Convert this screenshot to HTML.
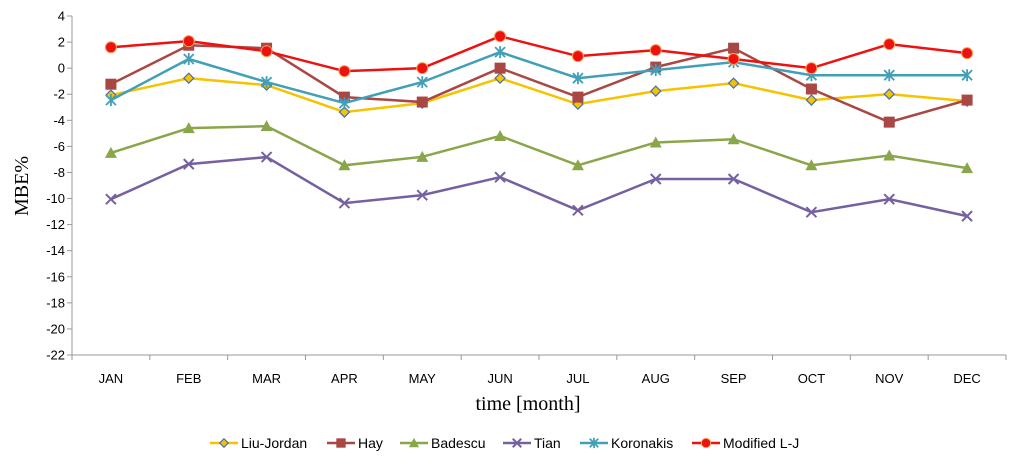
<!DOCTYPE html>
<html><head><meta charset="utf-8"><style>
body{margin:0;background:#fff;width:1024px;height:466px;overflow:hidden}
svg{font-family:"Liberation Sans",sans-serif}
</style></head><body>
<svg id="c" width="1024" height="466"></svg>
<script>
const months=["JAN","FEB","MAR","APR","MAY","JUN","JUL","AUG","SEP","OCT","NOV","DEC"];
const yTicks=[4,2,0,-2,-4,-6,-8,-10,-12,-14,-16,-18,-20,-22];
const liuJordan=[-2.07,-0.77,-1.3,-3.37,-2.68,-0.77,-2.76,-1.76,-1.15,-2.45,-1.99,-2.53];
const hay=[-1.23,1.76,1.53,-2.22,-2.6,0,-2.22,0.08,1.53,-1.6,-4.14,-2.45];
const badescu=[-6.5,-4.6,-4.45,-7.45,-6.8,-5.2,-7.45,-5.7,-5.45,-7.45,-6.7,-7.67];
const tian=[-10.05,-7.36,-6.82,-10.35,-9.74,-8.36,-10.9,-8.5,-8.5,-11.05,-10.05,-11.35];
const koronakis=[-2.45,0.7,-1.07,-2.68,-1.07,1.23,-0.77,-0.15,0.46,-0.54,-0.54,-0.54];
const modifiedLJ=[1.6,2.07,1.3,-0.23,0,2.45,0.92,1.38,0.7,0,1.84,1.15];
const seriesNames=["Liu-Jordan","Hay","Badescu","Tian","Koronakis","Modified L-J"];

const svg=document.getElementById('c');
const NS="http://www.w3.org/2000/svg";
const L=72,R=1006,T=16,B=355,ymin=-22,ymax=4;
const x=i=>L+(R-L)/months.length*(i+0.5);
const y=v=>T+(ymax-v)/(ymax-ymin)*(B-T);
function mk(t,a,p){const e=document.createElementNS(NS,t);for(const k in a)e.setAttribute(k,a[k]);(p||svg).appendChild(e);return e;}

let e=mk('line',{x1:L,y1:T,x2:L,y2:B,stroke:'#999'});


e=mk('line',{x1:L,y1:B,x2:R,y2:B,stroke:'#999'});


yTicks.forEach(v=>{
  mk('line',{x1:L-5,y1:y(v),x2:L,y2:y(v),stroke:'#999'});
  const t=mk('text',{x:L-7,y:y(v)+4.5,'text-anchor':'end','font-size':13,fill:'#000'});
  t.textContent=v;
  
  
});
for(let i=0;i<=months.length;i++){const xx=L+(R-L)/months.length*i;mk('line',{x1:xx,y1:B,x2:xx,y2:B+5,stroke:'#999'});}
months.forEach((m,i)=>{
  const t=mk('text',{x:x(i),y:383,'text-anchor':'middle','font-size':13});
  t.textContent=m;
  
  
});
let t=mk('text',{x:528,y:410,'text-anchor':'middle','font-size':20,'font-family':'Liberation Serif,serif'});
t.textContent='time [month]';


t=mk('text',{x:0,y:0,transform:'translate(28,186) rotate(-90)','text-anchor':'middle','font-size':20,'font-family':'Liberation Serif,serif'});
t.textContent='MBE%';



const colors=["#f5c300","#a84744","#8aa64a","#7560a0","#41a0b8","#ee1111"];
const data=[liuJordan,hay,badescu,tian,koronakis,modifiedLJ];
function marker(k,cx,cy,g,s){
  s=s||1;const c=colors[k];
  if(k===0)mk('path',{d:`M${cx} ${cy-5*s}L${cx+5*s} ${cy}L${cx} ${cy+5*s}L${cx-5*s} ${cy}Z`,fill:c,stroke:'#4a6fb0','stroke-width':1.2},g);
  else if(k===1)mk('rect',{x:cx-5.5*s,y:cy-5.5*s,width:11*s,height:11*s,fill:c},g);
  else if(k===2)mk('path',{d:`M${cx} ${cy-6*s}L${cx+6*s} ${cy+5*s}L${cx-6*s} ${cy+5*s}Z`,fill:c},g);
  else if(k===3)mk('path',{d:`M${cx-5*s} ${cy-5*s}L${cx+5*s} ${cy+5*s}M${cx+5*s} ${cy-5*s}L${cx-5*s} ${cy+5*s}`,stroke:c,'stroke-width':2},g);
  else if(k===4)mk('path',{d:`M${cx-5*s} ${cy-5*s}L${cx+5*s} ${cy+5*s}M${cx+5*s} ${cy-5*s}L${cx-5*s} ${cy+5*s}M${cx} ${cy-6*s}L${cx} ${cy+6*s}`,stroke:c,'stroke-width':1.8},g);
  else mk('circle',{cx,cy,r:5.5*s,fill:c,stroke:'#f7a050','stroke-width':1},g);
}
data.forEach((d,k)=>{
  const g=mk('g',{});
  
  
  mk('polyline',{points:d.map((v,i)=>x(i)+','+y(v)).join(' '),fill:'none',stroke:colors[k],'stroke-width':2.5},g);
  d.forEach((v,i)=>marker(k,x(i),y(v),g));
});
const lx=[210,327,400,503,580,692];
seriesNames.forEach((n,k)=>{
  const g=mk('g',{});
  
  
  mk('line',{x1:lx[k],y1:443,x2:lx[k]+28,y2:443,stroke:colors[k],'stroke-width':2.5},g);
  marker(k,lx[k]+14,443,g,0.85);
  const tt=mk('text',{x:lx[k]+31,y:448,'font-size':14},g);
  tt.textContent=n;
});
</script>
</body></html>
